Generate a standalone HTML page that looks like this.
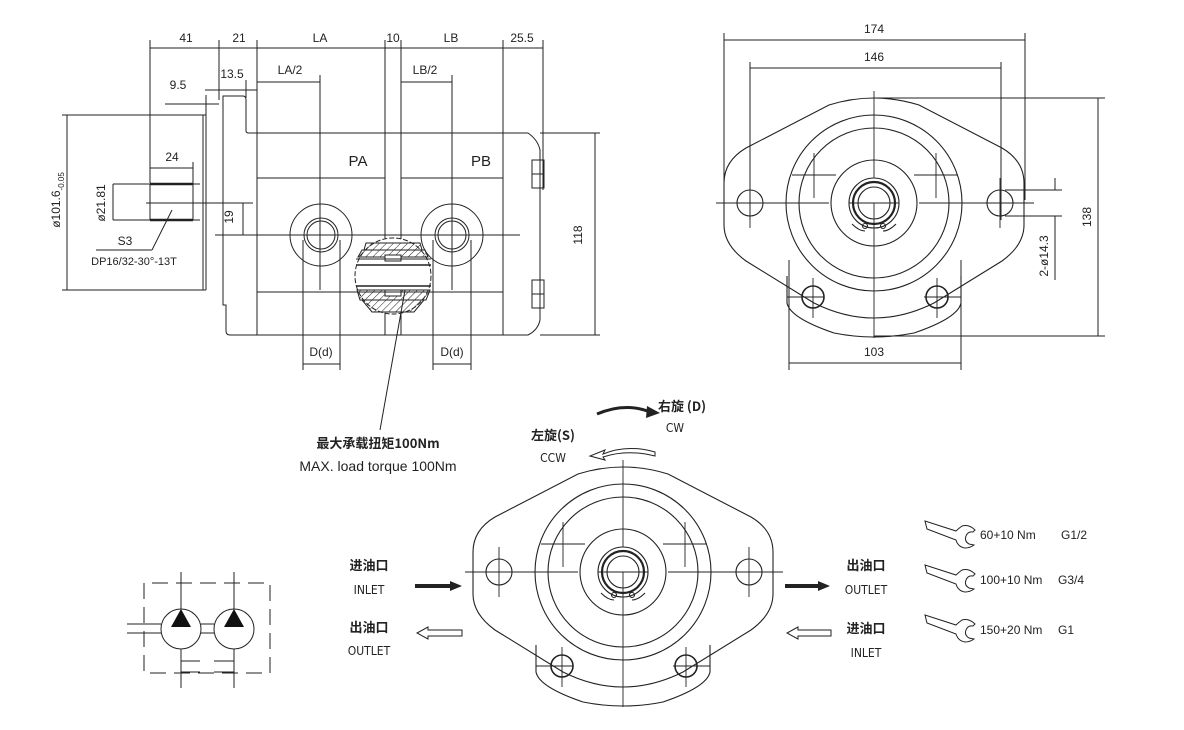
<!DOCTYPE html>
<html><head><meta charset="utf-8"><style>
html,body{margin:0;padding:0;background:#fff;}
svg{display:block;}
text{font-family:"Liberation Sans","Noto Sans CJK SC",sans-serif;fill:#222;}
.n{font-family:"DejaVu Sans Condensed","Liberation Sans",sans-serif;font-size:12px;}
.cn{font-family:"Noto Sans CJK SC","WenQuanYi Zen Hei",sans-serif;font-weight:bold;font-size:13px;}
</style></head><body>
<svg width="1184" height="730" viewBox="0 0 1184 730" xmlns="http://www.w3.org/2000/svg">
<defs>
<marker id="a" viewBox="0 0 10 6" refX="10" refY="3" markerWidth="7" markerHeight="4" orient="auto-start-reverse"><path d="M0,0L10,3L0,6z" fill="#222"/></marker>
<pattern id="h" width="5" height="5" patternUnits="userSpaceOnUse" patternTransform="rotate(45)"><line x1="0" y1="0" x2="0" y2="5" stroke="#222" stroke-width="1"/></pattern>
<g id="fv" fill="none" stroke="#222" stroke-width="1.1">
  <path d="M-150,-20 Q-150,-42 -128,-55 L-45,-98 Q0,-112 45,-98 L128,-55 Q150,-42 150,-20 L150,22 Q150,42 128,58 L60,100 Q0,130 -60,100 L-128,58 Q-150,42 -150,22 Z"/>
  <path d="M-87,73 L-87,100 Q-84,115 -40,130 Q0,138 40,130 Q84,115 87,100 L87,73"/>
  <circle r="88"/><circle r="75"/><circle r="43"/><circle r="25"/><circle r="21" stroke-width="2.2"/><circle r="16"/>
  <circle cx="-124" cy="0" r="13"/><circle cx="126" cy="0" r="13"/>
  <circle cx="-61" cy="94" r="11" stroke-width="1.6"/><circle cx="63" cy="94" r="11" stroke-width="1.6"/>
  <circle cx="-9" cy="23" r="2.5"/><circle cx="9" cy="23" r="2.5"/>
  <path d="M-22,21 Q-15,28 -9,28 M22,21 Q15,28 9,28"/>
  <g stroke-width="0.9">
  <line x1="-158" y1="0" x2="-45" y2="0"/><line x1="-25" y1="0" x2="25" y2="0"/><line x1="45" y1="0" x2="160" y2="0"/>
  <line x1="0" y1="-112" x2="0" y2="-25"/><line x1="0" y1="0" x2="0" y2="135"/>
  <line x1="-124" y1="-25" x2="-124" y2="25"/><line x1="126" y1="-25" x2="126" y2="25"/>
  <line x1="-60" y1="-50" x2="-60" y2="-5"/><line x1="-82" y1="-28" x2="-38" y2="-28"/>
  <line x1="62" y1="-50" x2="62" y2="-5"/><line x1="40" y1="-28" x2="84" y2="-28"/>
  <line x1="-61" y1="75" x2="-61" y2="115"/><line x1="63" y1="75" x2="63" y2="115"/>
  <line x1="-87" y1="94" x2="-50" y2="94"/><line x1="50" y1="94" x2="87" y2="94"/>
  </g>
</g>
</defs>

<!-- ===== SIDE VIEW ===== -->
<g fill="none" stroke="#222" stroke-width="1">
  <!-- extension lines -->
  <line x1="150" y1="40" x2="150" y2="183"/><line x1="219" y1="40" x2="219" y2="100"/>
  <line x1="257" y1="40" x2="257" y2="335"/><line x1="385" y1="40" x2="385" y2="335"/>
  <line x1="401" y1="40" x2="401" y2="335"/><line x1="503" y1="40" x2="503" y2="335"/>
  <line x1="543" y1="40" x2="543" y2="190"/>
  <line x1="150" y1="48" x2="543" y2="48"/>
  <line x1="205" y1="90" x2="257" y2="90"/><line x1="257" y1="82" x2="320" y2="82"/><line x1="401" y1="82" x2="452" y2="82"/>
  <line x1="165" y1="104" x2="219" y2="104"/><line x1="206" y1="95" x2="206" y2="115"/><line x1="246" y1="80" x2="246" y2="98"/>
  <line x1="320" y1="75" x2="320" y2="290"/><line x1="452" y1="75" x2="452" y2="290"/>
  <!-- flange & body -->
  <path d="M206,115 L206,290 M203,115 L203,290" />
  <path d="M223,96 L243,96 Q246,96 246,100 L246,131 Q246,133 249,133 L528,133 Q538,140 540,150 L540,320 Q538,330 528,335 L230,335 Q226,335 226,331 L226,305 L223,305 Z"/>
  <line x1="257" y1="178" x2="385" y2="178"/><line x1="401" y1="178" x2="503" y2="178"/>
  <line x1="257" y1="292" x2="503" y2="292"/>
  <!-- end bolts -->
  <rect x="532" y="160" width="12" height="28"/><rect x="532" y="280" width="12" height="28"/>
  <line x1="532" y1="174" x2="544" y2="174"/><line x1="532" y1="294" x2="544" y2="294"/>
  <!-- shaft -->
  <rect x="150" y="184" width="43" height="36"/>
  <line x1="150" y1="184" x2="193" y2="184" stroke-width="2.5"/><line x1="150" y1="220" x2="193" y2="220" stroke-width="2.5"/>
  <line x1="193" y1="184" x2="200" y2="184"/><line x1="193" y1="220" x2="200" y2="220"/>
  <line x1="146" y1="203" x2="253" y2="203"/>
  <line x1="150" y1="168" x2="193" y2="168"/><line x1="193" y1="162" x2="193" y2="184"/>
  <line x1="113" y1="184" x2="150" y2="184"/><line x1="113" y1="220" x2="150" y2="220"/><line x1="113" y1="184" x2="113" y2="220"/>
  <line x1="62" y1="115" x2="206" y2="115"/><line x1="62" y1="290" x2="206" y2="290"/><line x1="67" y1="115" x2="67" y2="290"/>
  <line x1="96" y1="250" x2="152" y2="250"/><line x1="152" y1="250" x2="172" y2="210"/>
  <line x1="243" y1="203" x2="243" y2="235"/>
  <!-- ports -->
  <circle cx="321" cy="235" r="31"/><circle cx="321" cy="235" r="17"/><circle cx="321" cy="235" r="14"/>
  <circle cx="452" cy="235" r="31"/><circle cx="452" cy="235" r="17"/><circle cx="452" cy="235" r="14"/>
  <line x1="215" y1="235" x2="520" y2="235"/>
  <line x1="303" y1="240" x2="303" y2="370"/><line x1="340" y1="240" x2="340" y2="370"/>
  <line x1="433" y1="240" x2="433" y2="370"/><line x1="471" y1="240" x2="471" y2="370"/>
  <line x1="303" y1="364" x2="340" y2="364"/><line x1="433" y1="364" x2="471" y2="364"/>
  <!-- cutaway -->
  <circle cx="393" cy="276" r="38" fill="#fff" stroke-dasharray="5 2"/>
  <path d="M362,250 L425,250 L428,257 L358,257 Z" fill="url(#h)"/>
  <path d="M366,243 L420,243 L422,250 L364,250 Z" fill="url(#h)"/>
  <path d="M357,290 L430,290 L426,300 L360,300 Z" fill="url(#h)"/>
  <path d="M362,300 L424,300 L414,312 L372,312 Z" fill="url(#h)"/>
  <rect x="385" y="255" width="16" height="6" fill="#fff"/><rect x="385" y="290" width="16" height="6" fill="#fff"/>
  <line x1="356" y1="265" x2="431" y2="265" stroke-width="1.6"/><line x1="356" y1="286" x2="431" y2="286" stroke-width="1.6"/>
  <line x1="356" y1="259" x2="431" y2="259"/><line x1="356" y1="292" x2="431" y2="292"/>
  <line x1="405" y1="290" x2="380" y2="430"/>
  <!-- 118 -->
  <line x1="540" y1="133" x2="600" y2="133"/><line x1="540" y1="335" x2="600" y2="335"/><line x1="595" y1="133" x2="595" y2="335"/>
</g>
<g class="n" text-anchor="middle">
  <text x="186" y="42">41</text><text x="239" y="42">21</text><text x="320" y="42">LA</text><text x="393" y="42">10</text><text x="451" y="42">LB</text><text x="522" y="42">25.5</text>
  <text x="232" y="78">13.5</text><text x="290" y="74">LA/2</text><text x="425" y="74">LB/2</text><text x="178" y="89">9.5</text>
  <text x="172" y="161">24</text>
  <text x="358" y="166" font-size="15">PA</text><text x="481" y="166" font-size="15">PB</text>
  <text x="125" y="245">S3</text><text x="134" y="265" font-size="11">DP16/32-30°-13T</text>
  <text x="321" y="356">D(d)</text><text x="452" y="356">D(d)</text>
  <text transform="translate(582,235) rotate(-90)">118</text>
  <text transform="translate(233,217) rotate(-90)">19</text>
  <text transform="translate(105,203) rotate(-90)">ø21.81</text>
  <text transform="translate(60,200) rotate(-90)">ø101.6<tspan font-size="8" dy="4">-0.05</tspan></text>
  <text x="378" y="448" class="cn">最大承载扭矩100Nm</text>
  <text x="378" y="471" font-size="14">MAX. load torque 100Nm</text>
</g>

<!-- ===== FRONT VIEW TOP ===== -->
<use href="#fv" x="874" y="203"/>
<g fill="none" stroke="#222" stroke-width="1">
  <line x1="724" y1="33" x2="724" y2="200"/><line x1="1025" y1="33" x2="1025" y2="200"/>
  <line x1="724" y1="40" x2="1025" y2="40"/>
  <line x1="750" y1="62" x2="750" y2="220"/><line x1="1001" y1="62" x2="1001" y2="220"/>
  <line x1="750" y1="68" x2="1001" y2="68"/>
  <line x1="874" y1="98" x2="1105" y2="98"/><line x1="874" y1="336" x2="1105" y2="336"/><line x1="1098" y1="98" x2="1098" y2="336"/>
  <line x1="789" y1="260" x2="789" y2="370"/><line x1="961" y1="260" x2="961" y2="370"/><line x1="789" y1="363" x2="961" y2="363"/>
  <line x1="1005" y1="190" x2="1062" y2="190"/><line x1="1005" y1="216" x2="1062" y2="216"/>
  <line x1="1055" y1="178" x2="1055" y2="190"/><line x1="1055" y1="216" x2="1055" y2="280"/>
</g>
<g class="n" text-anchor="middle">
  <text x="874" y="33">174</text><text x="874" y="61">146</text><text x="874" y="356">103</text>
  <text transform="translate(1091,217) rotate(-90)">138</text>
  <text transform="translate(1048,256) rotate(-90)">2-ø14.3</text>
</g>

<!-- ===== FRONT VIEW BOTTOM ===== -->
<use href="#fv" x="623" y="572"/>
<path d="M597,414 Q625,402 650,412" fill="none" stroke="#222" stroke-width="3"/>
<path d="M647,406 L660,413 L646,418 Z" fill="#222"/>
<path d="M655,452 Q627,444 603,454 L605,450 L590,456 L605,460 L603,457 Q627,449 655,456 Z" fill="#fff" stroke="#222" stroke-width="1"/>
<g text-anchor="middle">
  <text x="682" y="411" class="cn">右旋 (D)</text><text x="675" y="432" class="n" font-size="14">CW</text>
  <text x="553" y="440" class="cn">左旋(S)</text><text x="553" y="462" class="n" font-size="14">CCW</text>
  <text x="369" y="570" class="cn">进油口</text><text x="369" y="594" class="n" font-size="14">INLET</text>
  <text x="369" y="632" class="cn">出油口</text><text x="369" y="655" class="n" font-size="14">OUTLET</text>
  <text x="866" y="570" class="cn">出油口</text><text x="866" y="594" class="n" font-size="14">OUTLET</text>
  <text x="866" y="633" class="cn">进油口</text><text x="866" y="657" class="n" font-size="14">INLET</text>
</g>
<!-- arrows -->
<path d="M415,584 L450,584 L450,581 L462,586 L450,591 L450,588 L415,588 Z" fill="#222"/>
<path d="M785,584 L818,584 L818,581 L830,586 L818,591 L818,588 L785,588 Z" fill="#222"/>
<path d="M462,630 L428,630 L428,627 L417,633 L428,639 L428,636 L462,636 Z" fill="#fff" stroke="#222"/>
<path d="M831,630 L798,630 L798,627 L787,633 L798,639 L798,636 L831,636 Z" fill="#fff" stroke="#222"/>

<!-- ===== HYDRAULIC SYMBOL ===== -->
<g fill="none" stroke="#222" stroke-width="1">
  <path d="M144,583 L144,673 L270,673 L270,583 Z" stroke-dasharray="16 8"/>
  <line x1="181" y1="572" x2="181" y2="609"/><line x1="234" y1="572" x2="234" y2="609"/>
  <line x1="181" y1="649" x2="181" y2="688"/><line x1="234" y1="649" x2="234" y2="688"/>
  <line x1="127" y1="624" x2="161" y2="624"/><line x1="127" y1="633" x2="161" y2="633"/>
  <line x1="201" y1="624" x2="214" y2="624"/><line x1="201" y1="633" x2="214" y2="633"/>
  <line x1="181" y1="661" x2="200" y2="661"/><line x1="214" y1="661" x2="234" y2="661"/>
  <line x1="181" y1="672" x2="200" y2="672"/><line x1="214" y1="672" x2="234" y2="672"/>
  <circle cx="181" cy="629" r="20" fill="#fff"/><circle cx="234" cy="629" r="20" fill="#fff"/>
</g>
<path d="M181,609 L171,627 L191,627 Z M234,609 L224,627 L244,627 Z" fill="#111"/>

<!-- ===== WRENCHES ===== -->
<g fill="none" stroke="#222" stroke-width="1">
  <g id="wr"><path d="M925,521 L927,529 L956,540 Q958,547 965,548 Q970,548 974,545 L969,544 Q964,541 966,536 Q968,531 973,532 L975,530 Q969,524 962,526 Q958,529 956,531 Z"/></g>
  <use href="#wr" y="44"/><use href="#wr" y="94"/>
</g>
<g font-size="12" font-family="Liberation Sans, sans-serif">
  <text x="980" y="539">60+10 Nm</text><text x="1061" y="539">G1/2</text>
  <text x="980" y="584">100+10 Nm</text><text x="1058" y="584">G3/4</text>
  <text x="980" y="634">150+20 Nm</text><text x="1058" y="634">G1</text>
</g>
</svg>
</body></html>
